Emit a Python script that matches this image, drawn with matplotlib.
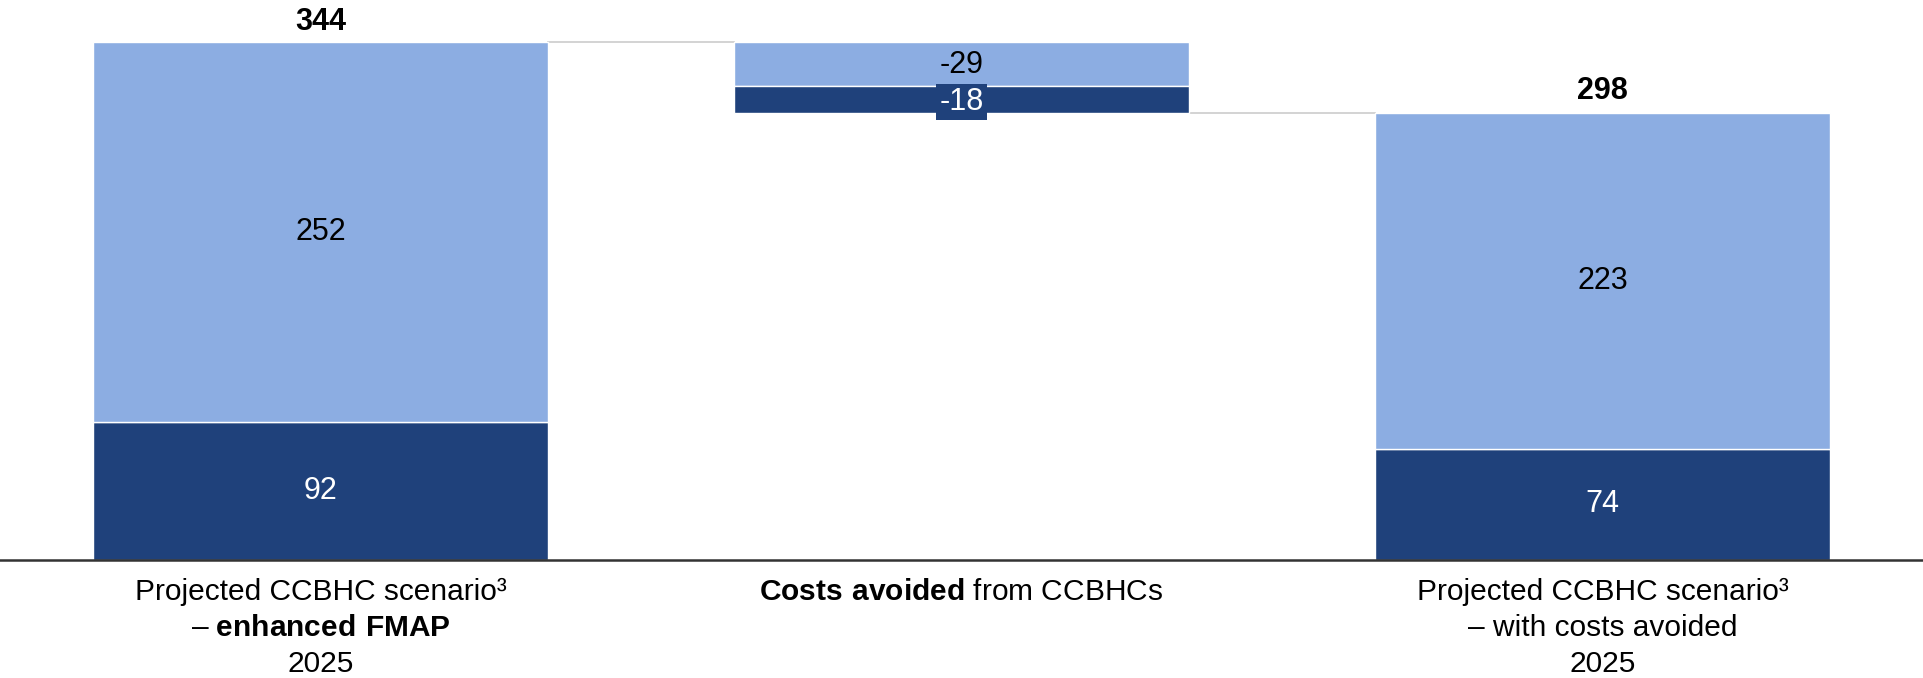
import numpy as np
import matplotlib
matplotlib.use("Agg")
import matplotlib.pyplot as plt

plt.rcParams['font.family'] = ['Liberation Sans', 'DejaVu Sans']
plt.rcParams['mathtext.fontset'] = 'custom'
plt.rcParams['mathtext.rm'] = 'Liberation Sans'
plt.rcParams['mathtext.bf'] = 'Liberation Sans:bold'

# data
categories = ["Projected CCBHC scenario\u00b3\n\u2013 $\\bf{enhanced\\ FMAP}$\n2025",
              "$\\bf{Costs\\ avoided}$ from CCBHCs",
              "Projected CCBHC scenario\u00b3\n\u2013 with costs avoided\n2025"]
dark_vals = [92, -18, 74]     # bottom segment
light_vals = [252, -29, 223]  # top segment
totals = [344, None, 298]

LIGHT = "#8CADE2"
DARK = "#1F417B"
FS = 22

fig = plt.figure(figsize=(19.23, 6.78), dpi=100)
ax = fig.add_axes([0, 0.174, 1, 0.826])

x = np.arange(len(categories))
w = 0.71

# first column
ax.bar(x[0], dark_vals[0], w, color=DARK, edgecolor="white", linewidth=1)
ax.bar(x[0], light_vals[0], w, bottom=dark_vals[0], color=LIGHT, edgecolor="white", linewidth=1)
ax.text(x[0], dark_vals[0] / 2, str(dark_vals[0]), ha="center", va="center", color="white", fontsize=FS)
ax.text(x[0], dark_vals[0] + light_vals[0] / 2, str(light_vals[0]), ha="center", va="center", fontsize=FS)

# middle floating column (costs avoided)
start = totals[0]
light_bottom = start + light_vals[1]
dark_bottom = light_bottom + dark_vals[1]
ax.bar(x[1], -light_vals[1], w, bottom=light_bottom, color=LIGHT, edgecolor="white", linewidth=1)
ax.bar(x[1], -dark_vals[1], w, bottom=dark_bottom, color=DARK, edgecolor="white", linewidth=1)
ax.text(x[1], light_bottom - light_vals[1] / 2 - 1, str(light_vals[1]), ha="center", va="center", fontsize=FS)
ax.text(x[1], dark_bottom - dark_vals[1] / 2 - 1.5, str(dark_vals[1]), ha="center", va="center", color="white",
        fontsize=FS, bbox=dict(boxstyle="square,pad=0.1", fc=DARK, ec="none"))

# last column
ax.bar(x[2], dark_vals[2], w, color=DARK, edgecolor="white", linewidth=1)
ax.bar(x[2], light_vals[2], w, bottom=dark_vals[2], color=LIGHT, edgecolor="white", linewidth=1)
ax.text(x[2], dark_vals[2] / 2, str(dark_vals[2]), ha="center", va="center", color="white", fontsize=FS)
ax.text(x[2], dark_vals[2] + light_vals[2] / 2, str(light_vals[2]), ha="center", va="center", fontsize=FS)

# totals
for i in [0, 2]:
    ax.text(x[i], totals[i] + 3.5, str(totals[i]), ha="center", va="bottom", fontsize=FS, fontweight="bold")

# connectors
ax.plot([x[0] + w / 2, x[1] - w / 2], [start, start], color="#D0D0D0", lw=1.3, zorder=0)
ax.plot([x[1] + w / 2, x[2] - w / 2], [dark_bottom, dark_bottom], color="#D0D0D0", lw=1.3, zorder=0)

ax.set_xlim(-0.5, 2.5)
ax.set_ylim(0, 372)
ax.set_xticks(x)
ax.set_xticklabels(categories, fontsize=21.5, linespacing=1.36)
ax.tick_params(axis="x", length=0, pad=13)
ax.set_yticks([])
for s in ["top", "right", "left"]:
    ax.spines[s].set_visible(False)
ax.spines["bottom"].set_color("#333333")
ax.spines["bottom"].set_linewidth(1.8)

fig.savefig("out.png", dpi=100)
